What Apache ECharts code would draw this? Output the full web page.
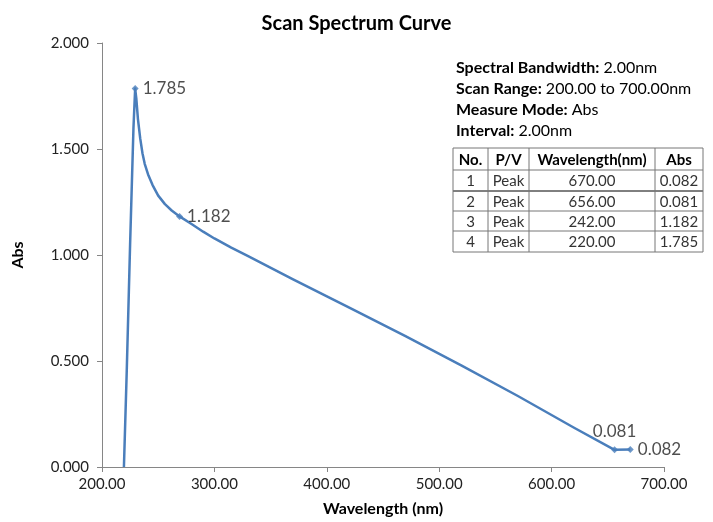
<!DOCTYPE html>
<html><head><meta charset="utf-8">
<script src="https://cdn.jsdelivr.net/npm/echarts@6/dist/echarts.min.js"></script>
<style>html,body{margin:0;padding:0;background:#fff}#c{width:713px;height:522px}</style>
</head><body><div id="c"></div>
<script>
var wavelengths = [219.5, 222, 225, 228, 229.5, 230.5, 232, 234, 236, 238, 241, 245, 250, 256, 262, 269, 280, 290, 300, 315, 330, 370, 420, 470, 520, 570, 620, 656, 670];
var absValues   = [0, 0.45, 1.05, 1.6, 1.785, 1.74, 1.64, 1.55, 1.48, 1.43, 1.38, 1.33, 1.28, 1.24, 1.21, 1.182, 1.145, 1.11, 1.078, 1.035, 0.995, 0.885, 0.752, 0.617, 0.478, 0.335, 0.185, 0.081, 0.082];
var peakWl   = [229.5, 269, 656, 670];
var peakAbs  = [1.785, 1.182, 0.081, 0.082];
var peakLabels = ['1.785', '1.182', '0.081', '0.082'];
var infoLines = [['Spectral Bandwidth:', ' 2.00nm'], ['Scan Range:', ' 200.00 to 700.00nm'], ['Measure Mode:', ' Abs'], ['Interval:', ' 2.00nm']];
var tableHeader = ['No.', 'P/V', 'Wavelength(nm)', 'Abs'];
var tableRows = [['1','Peak','670.00','0.082'],['2','Peak','656.00','0.081'],['3','Peak','242.00','1.182'],['4','Peak','220.00','1.785']];
var xTicks = [200, 300, 400, 500, 600, 700];
var yTicks = [0, 0.5, 1, 1.5, 2];

var FONT = 'Lato';
var chart = echarts.init(document.getElementById('c'));
var lineData = wavelengths.map(function(w,i){return [w, absValues[i]];});
var labelPos = ['right','right','top','right'];
var peakData = peakWl.map(function(w,i){
  return {value:[w, peakAbs[i]], label:{show:true, formatter:peakLabels[i], position:labelPos[i],
    offset: i===2 ? [0,-2] : [0,0], distance: 4}};
});

var graphics = [];
var tx = 456, ty0 = 70, dy = 21;
infoLines.forEach(function(l,i){
  graphics.push({type:'text', left:tx, top:ty0+i*dy-10, style:{
    text:'{b|'+l[0]+'}{n|'+l[1]+'}',
    rich:{b:{fontFamily:FONT,fontWeight:'bold',fontSize:16,fill:'#000'}, n:{fontFamily:FONT,fontSize:16,fill:'#000'}}
  }});
});
var colX = [453, 488, 529, 655, 703];
var rowY = [148, 170, 191, 211, 231, 252];
var allRows = [tableHeader].concat(tableRows);
for (var r=0;r<rowY.length;r++){
  graphics.push({type:'line', shape:{x1:colX[0],y1:rowY[r],x2:colX[4],y2:rowY[r]}, style:{stroke:r===2?'#000':'#777', lineWidth:1}});
}
for (var c=0;c<colX.length;c++){
  graphics.push({type:'line', shape:{x1:colX[c],y1:rowY[0],x2:colX[c],y2:rowY[5]}, style:{stroke:'#777', lineWidth:1}});
}
allRows.forEach(function(row,r){
  row.forEach(function(cell,c){
    var isHead = r===0;
    graphics.push({type:'text', x:(colX[c]+colX[c+1])/2, y:(rowY[r]+rowY[r+1])/2+1, style:{text:cell, fontFamily:FONT, fontSize:15,
      fontWeight:isHead?'bold':'normal', fill:isHead?'#000':'#333', align:'center', verticalAlign:'middle'}});
  });
});

chart.setOption({
  animation:false,
  backgroundColor:'#fff',
  title:{text:'Scan Spectrum Curve', left:'center', top:9, textStyle:{fontFamily:FONT, fontSize:20, fontWeight:'bold', color:'#000'}},
  grid:{left:102, right:49, top:43, bottom:55, containLabel:false},
  xAxis:{type:'value', min:xTicks[0], max:xTicks[xTicks.length-1], interval:100,
    name:'Wavelength (nm)', nameLocation:'middle', nameGap:34,
    nameTextStyle:{fontFamily:FONT, fontSize:16, fontWeight:'bold', color:'#000'},
    axisLine:{lineStyle:{color:'#868686'}}, axisTick:{show:true, length:5, lineStyle:{color:'#868686'}},
    splitLine:{show:false},
    axisLabel:{fontFamily:FONT, fontSize:15, color:'#222', margin:10, formatter:function(v){return v.toFixed(2);}}},
  yAxis:{type:'value', min:yTicks[0], max:yTicks[yTicks.length-1], interval:0.5,
    name:'Abs', nameLocation:'middle', nameGap:76, nameRotate:90,
    nameTextStyle:{fontFamily:FONT, fontSize:16, fontWeight:'bold', color:'#000'},
    axisLine:{show:true, lineStyle:{color:'#868686'}}, axisTick:{show:true, length:5, lineStyle:{color:'#868686'}},
    splitLine:{show:false},
    axisLabel:{fontFamily:FONT, fontSize:15, color:'#222', margin:13, formatter:function(v){return v.toFixed(3);}}},
  series:[
    {type:'line', data:lineData, smooth:false, showSymbol:false, symbol:'none',
      lineStyle:{color:'#4a7ebb', width:2.5, join:'round'}, z:2},
    {type:'scatter', data:peakData, symbol:'diamond', symbolSize:7, itemStyle:{color:'#4a7ebb'},
      label:{fontFamily:FONT, fontSize:17, color:'#222'}, z:3}
  ],
  graphic:graphics
});
</script></body></html>
